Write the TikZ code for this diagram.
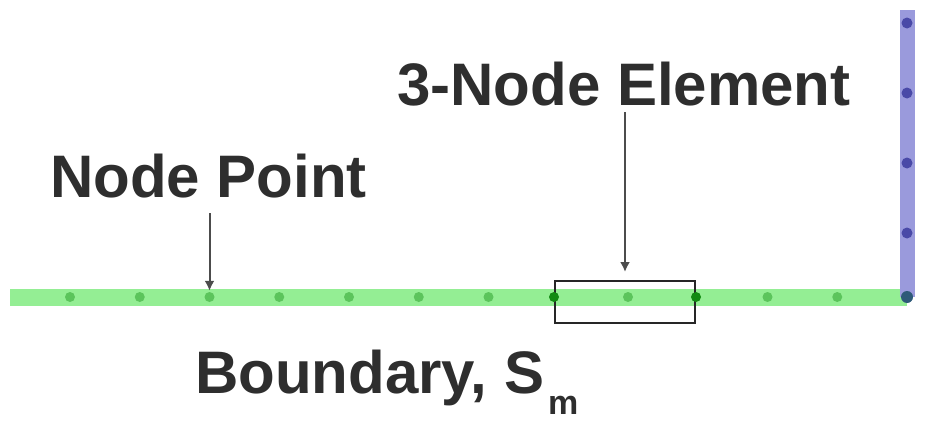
\documentclass[tikz,border=0pt]{standalone}
\usepackage{fontspec}
\setmainfont{Liberation Sans}
\usetikzlibrary{arrows.meta}
\definecolor{glight}{HTML}{94EE94}
\definecolor{gdot}{HTML}{5CC45C}
\definecolor{gdark}{HTML}{128A12}
\definecolor{blight}{HTML}{9A9ADC}
\definecolor{bdot}{HTML}{4A4AA8}
\definecolor{cdot}{HTML}{2E5A78}
\begin{document}
\begin{tikzpicture}[x=1pt,y=-1pt,
  lbl/.style={font=\fontsize{60}{60}\selectfont\bfseries, text=black!82, inner sep=0pt},
  greenline/.style={draw=glight, line width=17pt},
  blueline/.style={draw=blight, line width=15pt},
  gnode/.style={circle, fill=gdot, inner sep=0pt, minimum size=10pt},
  gnodedark/.style={circle, fill=gdark, inner sep=0pt, minimum size=10pt},
  bnode/.style={circle, fill=bdot, inner sep=0pt, minimum size=11pt},
  cnode/.style={circle, fill=cdot, inner sep=0pt, minimum size=12pt},
  elembox/.style={draw=black!85, line width=2pt, minimum width=140pt, minimum height=42pt, inner sep=0pt},
  pointer/.style={draw=black!70, line width=2pt, -{Latex[length=10pt,width=10pt]}}
]
\useasboundingbox (0,0) rectangle (927,423);
% lines
\draw[greenline] (10,297) -- (907,297);
\draw[blueline] (907,10) -- (907,297);
% green node points
\foreach \k in {1,2,4,6,7,8,9,10,11,12}{
  \node[gnode] (g\k) at ({907-69.75*\k},297) {};
}
% element box
\node[elembox] (box) at (625,302) {};
\node[gnodedark] (g5) at (box.west |- 0,297) {};
\node[gnodedark] (g3) at (box.east |- 0,297) {};
% blue node points
\node[bnode] (b1) at (907,23) {};
\node[bnode] (b2) at (907,93) {};
\node[bnode] (b3) at (907,163) {};
\node[bnode] (b4) at (907,233) {};
\node[cnode] (c) at (907,297) {};
% labels
\node[lbl, anchor=base west] (el) at (397,105) {3-Node Element};
\node[lbl, anchor=base west] (np) at (50,197) {Node Point};
\node[lbl, anchor=base west] (bd) at (195,393) {Boundary, S\raisebox{-21pt}{\hspace{4pt}\fontsize{34}{34}\selectfont m}};
% pointers
\coordinate (npstart) at (g10 |- 0,213);
\draw[pointer] (npstart) -- ([yshift=1pt]g10.north);
\coordinate (elstart) at (box.north |- 0,112);
\draw[pointer, shorten >=8pt] (elstart) -- (box.north);
\end{tikzpicture}
\end{document}
